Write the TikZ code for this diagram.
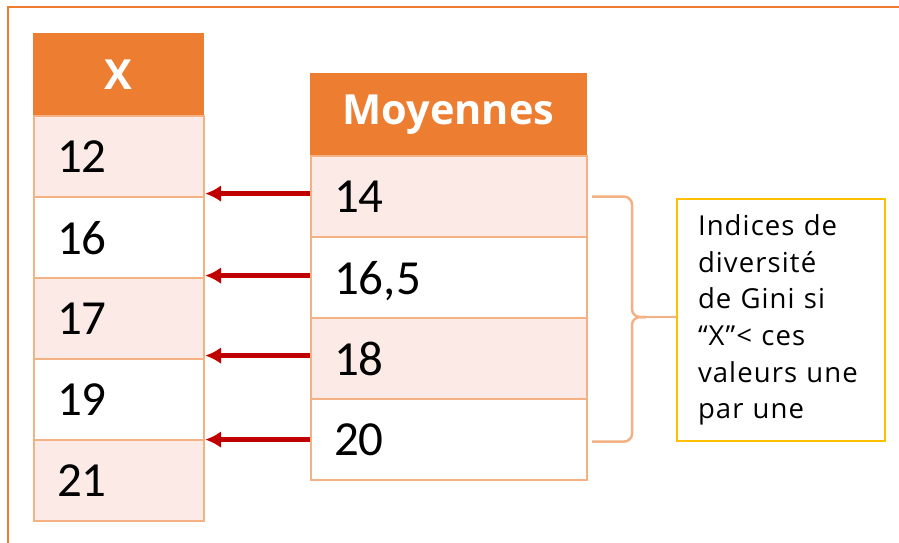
\documentclass[tikz,border=0pt]{standalone}
\usepackage{fontspec}
\usetikzlibrary{arrows.meta}
\setmainfont{Carlito}
\newfontfamily\notefont[LetterSpace=4]{Open Sans}
\newfontfamily\headfont{Open Sans}
\definecolor{hdr}{HTML}{ED7D31}
\definecolor{rowpink}{HTML}{FBEAE5}
\definecolor{cellline}{HTML}{F4B183}
\definecolor{arrred}{HTML}{C00000}
\definecolor{noteline}{HTML}{FFC000}
\begin{document}
\begin{tikzpicture}[x=1pt,y=-1pt,
  cell/.style={draw=cellline,line width=2.2pt,rectangle,inner sep=0pt,
    anchor=north west,text width=#1,minimum height=81pt,minimum width=#1,
    align=left,font=\fontsize{49}{52}\selectfont,text depth=0pt},
  pink/.style={fill=rowpink},
  plain/.style={fill=white},
  head/.style={fill=hdr,draw=hdr,line width=1pt,rectangle,inner sep=0pt,
    anchor=north west,minimum height=82pt,minimum width=#1,text=white,
    font=\headfont\bfseries\fontsize{41.5}{45}\selectfont},
  arr/.style={draw=arrred,line width=5.5pt,-{Latex[length=16pt,width=17pt]}},
  brace/.style={draw=cellline,line width=2.5pt,rounded corners=8pt},
  note/.style={draw=noteline,line width=2pt,rectangle,anchor=north west,
    minimum width=208pt,minimum height=242pt,inner sep=0pt,
    text width=166pt,align=left,font=\notefont\fontsize{27.5}{36.6}\selectfont}]
\useasboundingbox (0,0) rectangle (899,542);
\fill[white] (0,0) rectangle (899,542);
% outer frame
\draw[hdr,line width=2.5pt] (8,560) -- (8,7) -- (920,7);

% table X
\node[head=170pt] (xh) at (33,33) {X};
\node[cell=170pt,pink]  (x1) at (33,115) {\hspace*{23pt}12};
\node[cell=170pt,plain] (x2) at (33,196) {\hspace*{23pt}16};
\node[cell=170pt,pink]  (x3) at (33,277) {\hspace*{23pt}17};
\node[cell=170pt,plain] (x4) at (33,358) {\hspace*{23pt}19};
\node[cell=170pt,pink]  (x5) at (33,439) {\hspace*{23pt}21};

% table Moyennes
\node[head=276pt] (mh) at (310,73) {Moyennes};
\node[cell=276pt,pink]  (m1) at (310,155) {\hspace*{23pt}14};
\node[cell=276pt,plain] (m2) at (310,236) {\hspace*{23pt}16,5};
\node[cell=276pt,pink]  (m3) at (310,317) {\hspace*{23pt}18};
\node[cell=276pt,plain] (m4) at (310,398) {\hspace*{23pt}20};

% arrows from each mean to the boundary between X rows
\draw[arr] ([yshift=3pt]m1.west) -- ([yshift=3pt]m1.west -| x1.east);
\draw[arr] ([yshift=2pt]m2.west) -- ([yshift=2pt]m2.west -| x1.east);
\draw[arr] ([yshift=3pt]m3.west) -- ([yshift=3pt]m3.west -| x1.east);
\draw[arr] (m4.west) -- (m4.west -| x1.east);

% note box
\node[note] (note) at (676,198) {Indices de\\diversité\\de Gini si\\“X”< ces\\valeurs une\\par une};

% bracket linking the means to the note
\coordinate (btop) at (m1.east);
\coordinate (bbot) at ([yshift=-2pt]m4.east);
\coordinate (bmid) at (632,317);
\draw[brace] ([xshift=4pt]btop) -- (btop -| bmid) -- (bmid) -- ([xshift=14pt]bmid);
\draw[brace] ([xshift=14pt]bmid) -- (bmid) -- (bbot -| bmid) -- ([xshift=4pt]bbot);
\draw[cellline,line width=2.5pt] ([xshift=10pt]bmid) -- (note.west |- bmid);
\end{tikzpicture}
\end{document}
